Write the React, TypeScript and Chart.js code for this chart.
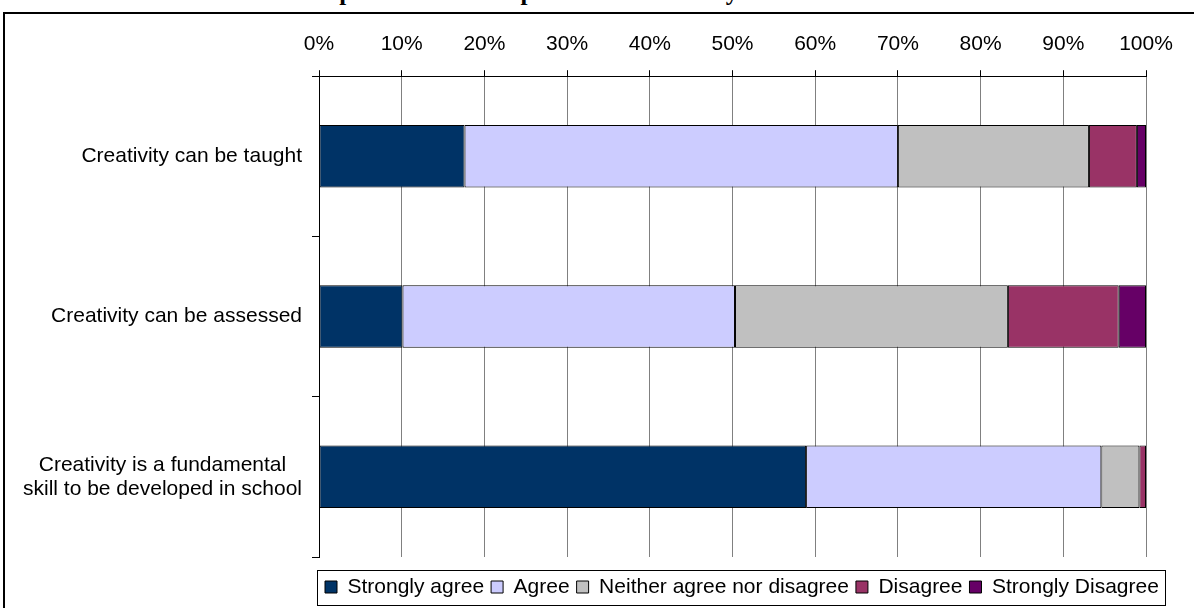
import React, { useEffect, useRef } from "react";
import { Chart, registerables } from "chart.js";

Chart.register(...registerables);

const titleText = "Graph 1: Teachers' opinions on creativity in education";

const categories: (string | string[])[] = [
  "Creativity can be taught",
  "Creativity can be assessed",
  ["Creativity is a fundamental", "skill to be developed in school"],
];

const seriesNames = [
  "Strongly agree",
  "Agree",
  "Neither agree nor disagree",
  "Disagree",
  "Strongly Disagree",
];

const stronglyAgree = [17.6, 10.1, 58.9];
const agree = [52.4, 40.2, 35.7];
const neither = [23.1, 33.0, 4.6];
const disagree = [5.8, 13.4, 0.8];
const stronglyDisagree = [1.1, 3.3, 0];

const seriesColors = ["#003366", "#CCCCFF", "#C0C0C0", "#993366", "#660066"];

const xTicks = [0, 10, 20, 30, 40, 50, 60, 70, 80, 90, 100];

const FONT = '"Liberation Sans", Arial, sans-serif';
const FS = 21;

export default function App() {
  const ref = useRef<HTMLCanvasElement | null>(null);

  useEffect(() => {
    if (!ref.current) return;
    const values = [stronglyAgree, agree, neither, disagree, stronglyDisagree];

    const layoutPlugin = {
      id: "legendPlacer",
      afterLayout(chart: any) {
        const lg = chart.legend;
        if (!lg) return;
        const pad = lg.options.labels.padding;
        const h = lg.height;
        const w = lg.width;
        lg.left = chart.chartArea.left + 6 - pad;
        lg.right = lg.left + w;
        lg.top = chart.chartArea.bottom + 30 - pad - FS / 2;
        lg.bottom = lg.top + h;
      },
    };

    const decorPlugin = {
      id: "decor",
      afterDraw(chart: any) {
        const ctx = chart.ctx;
        const ys = chart.scales.y;
        const area = chart.chartArea;
        ctx.save();
        ctx.font = FS + "px " + FONT;
        ctx.fillStyle = "#000";
        ctx.textBaseline = "middle";
        ctx.textAlign = "center";
        const rightEdge = area.left - 17;
        const lh = 24;
        categories.forEach((lab, i) => {
          const cy = ys.getPixelForValue(i);
          const lines = Array.isArray(lab) ? lab : [lab];
          const widest = Math.max(...lines.map((l) => ctx.measureText(l).width));
          lines.forEach((l, j) => {
            const ly = cy + (j - (lines.length - 1) / 2) * lh;
            ctx.fillText(l, rightEdge - widest / 2, ly);
          });
        });
        // legend frame
        const lg = chart.legend;
        if (lg && lg.lineWidths) {
          const pad = lg.options.labels.padding;
          const itemsW = lg.lineWidths[0] - pad;
          const x0 = lg.left + pad - 8;
          const cy = lg.top + pad + FS / 2;
          ctx.strokeStyle = "#000";
          ctx.lineWidth = 1;
          ctx.strokeRect(Math.round(x0) + 0.5, Math.round(cy - 17.5) + 0.5, Math.round(itemsW + 14), 35);
        }
        ctx.restore();
      },
    };

    const chart = new Chart(ref.current, {
      type: "bar",
      data: {
        labels: categories as any,
        datasets: seriesNames.map((name, k) => ({
          label: name,
          data: values[k],
          backgroundColor: seriesColors[k],
          borderColor: "#000",
          borderWidth: 1,
          borderSkipped: false,
          barPercentage: 0.39,
          categoryPercentage: 1,
        })),
      },
      options: {
        indexAxis: "y",
        responsive: false,
        animation: false,
        devicePixelRatio: 1,
        layout: { padding: { left: 10, right: 48, top: 19, bottom: 13 } },
        plugins: {
          title: { display: false },
          tooltip: { enabled: false },
          legend: {
            display: true,
            position: "bottom",
            align: "start",
            labels: {
              boxWidth: 12,
              boxHeight: 12,
              padding: 7,
              color: "#000",
              font: { family: FONT, size: FS },
            },
          },
        },
        scales: {
          x: {
            position: "top",
            stacked: true,
            min: 0,
            max: 100,
            afterBuildTicks: (scale: any) => {
              scale.ticks = xTicks.map((v) => ({ value: v }));
            },
            ticks: {
              color: "#000",
              font: { family: FONT, size: FS },
              padding: 13,
              maxRotation: 0,
              callback: (v: any) => v + "%",
            },
            grid: {
              color: "#808080",
              lineWidth: 1,
              drawTicks: true,
              tickLength: 6,
              tickColor: "#000",
            },
            border: { display: true, color: "#000", width: 1 },
          },
          y: {
            stacked: true,
            afterFit: (scale: any) => {
              scale.width = 309;
            },
            ticks: { display: false },
            grid: {
              drawOnChartArea: false,
              drawTicks: true,
              tickLength: 7,
              color: "#000",
            },
            border: { display: true, color: "#000", width: 1 },
          },
        },
      },
      plugins: [layoutPlugin, decorPlugin],
    } as any);

    return () => chart.destroy();
  }, []);

  return (
    <div style={{ position: "absolute", left: 0, top: 0, width: 1194, height: 608, overflow: "hidden", background: "#fff" }}>
      <div
        style={{
          position: "absolute",
          left: 0,
          top: -21,
          width: 1172,
          textAlign: "center",
          font: 'bold 25px "Liberation Serif", "Times New Roman", serif',
          lineHeight: "25px",
          color: "#000",
          whiteSpace: "nowrap",
        }}
      >
        {titleText}
      </div>
      <div
        style={{
          position: "absolute",
          left: 3,
          top: 12,
          width: 1240,
          height: 700,
          border: "2px solid #000",
        }}
      />
      <canvas ref={ref} width={1194} height={608} style={{ position: "absolute", left: 0, top: 0 }} />
    </div>
  );
}
